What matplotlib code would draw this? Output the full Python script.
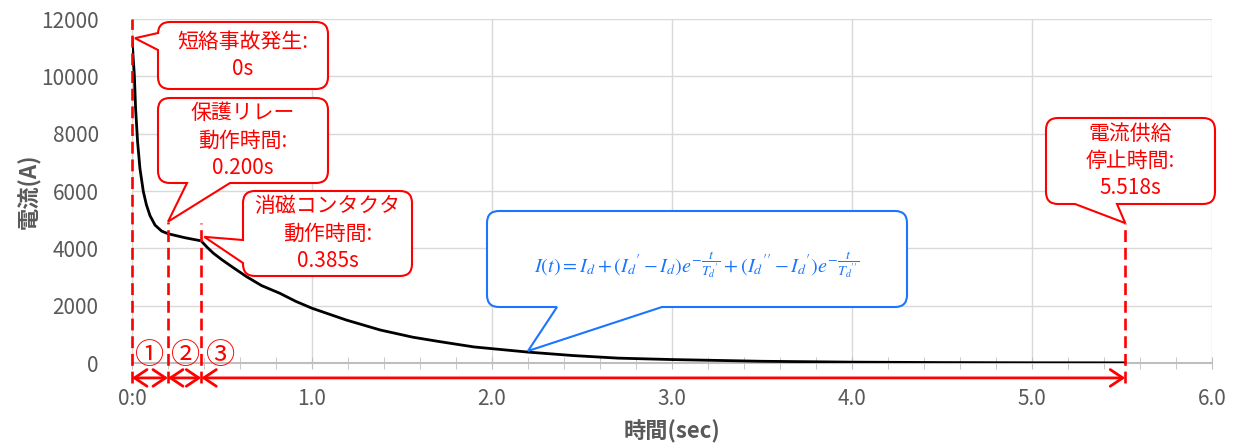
import numpy as np
import matplotlib
matplotlib.use('Agg')
import matplotlib.pyplot as plt
from matplotlib.path import Path
from matplotlib.patches import PathPatch
from matplotlib.transforms import IdentityTransform

plt.rcParams['font.family'] = ['Noto Sans CJK JP', 'DejaVu Sans']
plt.rcParams['mathtext.fontset'] = 'stix'

# 電流波形
time_s = [0, 0.006, 0.013, 0.02, 0.031, 0.044, 0.063, 0.08, 0.1, 0.128, 0.165, 0.2, 0.294,
          0.385, 0.393, 0.42, 0.452, 0.5, 0.55, 0.637, 0.72, 0.822, 0.91, 1.0, 1.19, 1.38,
          1.56, 1.71, 1.9, 2.2, 2.45, 2.7, 3.0, 3.5, 4.0, 4.5, 5.0, 5.518]
current_a = [11330, 10700, 10050, 8880, 7720, 6790, 5980, 5520, 5140, 4810, 4600, 4510, 4370,
             4260, 4200, 4020, 3830, 3600, 3380, 3010, 2700, 2430, 2150, 1910, 1500, 1150,
             900, 745, 560, 380, 260, 170, 120, 60, 30, 15, 8, 5]

# イベント時刻
t_fault = 0.0
t_relay = 0.200
t_contactor = 0.385
t_stop = 5.518

xticks = [0, 1, 2, 3, 4, 5, 6]
xticklabels = ['0:0', '1.0', '2.0', '3.0', '4.0', '5.0', '6.0']
yticks = [0, 2000, 4000, 6000, 8000, 10000, 12000]

RED = '#ff0000'
BLUE = '#1a75ff'
GRAY = '#595959'
H = 446

fig = plt.figure(figsize=(12.34, 4.46), dpi=100)
ax = fig.add_axes([132 / 1234, 1 - 363 / H, 1080 / 1234, 344 / H])

ax.plot(time_s, current_a, color='black', lw=2, zorder=3, solid_joinstyle='round')

ax.set_xlim(0, 6)
ax.set_ylim(0, 12000)
ax.set_xticks(xticks)
ax.set_xticklabels(xticklabels)
ax.set_yticks(yticks)
ax.set_xticks(np.arange(0, 6.01, 0.2), minor=True)
ax.tick_params(axis='x', which='both', direction='inout', length=8, color='#bfbfbf',
               labelsize=15, labelcolor=GRAY, pad=14)
ax.tick_params(axis='y', length=0, labelsize=15, labelcolor=GRAY, pad=24)
ax.grid(True, which='major', color='#d9d9d9', lw=1)
for s in ['top', 'right']:
    ax.spines[s].set_visible(False)
ax.spines['left'].set_color('#d9d9d9')
ax.spines['bottom'].set_color('#bfbfbf')
ax.spines['bottom'].set_linewidth(1.5)

ax.set_xlabel('時間(sec)', fontsize=16, color=GRAY, fontweight='bold', labelpad=7)
ax.set_ylabel('電流(A)', fontsize=16, color=GRAY, fontweight='bold', labelpad=0)

# 破線（イベント時刻）
y_bottom = -700
dash_top = [(t_fault, 12000), (t_relay, 4930), (t_contactor, 4880), (t_stop, 4880)]
for tx, ty in dash_top:
    ax.plot([tx, tx], [y_bottom, ty], color=RED, lw=1.9, dashes=(4.5, 2.2),
            clip_on=False, zorder=4)

# 区間の矢印
y_arrow = -520
for a, b in [(t_fault, t_relay), (t_relay, t_contactor), (t_contactor, t_stop)]:
    ax.annotate('', xy=(b, y_arrow), xytext=(a, y_arrow), annotation_clip=False,
                arrowprops=dict(arrowstyle='<->,head_length=0.45,head_width=0.3',
                                color=RED, lw=2, mutation_scale=20,
                                shrinkA=0, shrinkB=0))
for label, tx in [('①', 0.1), ('②', 0.3), ('③', 0.49)]:
    ax.text(tx, 230, label, color=RED, fontsize=21, ha='center', va='center')


def callout(box, side, base, tip, color, text, fontsize=15, dy=0):
    # box: 画像座標 (左, 上, 右, 下)、tip: 表示座標
    l, t, r, b = box[0], H - box[1], box[2], H - box[3]
    rad = 12
    v, c = [], []

    def mv(p):
        v.append(p); c.append(Path.MOVETO)

    def ln(p):
        v.append(p); c.append(Path.LINETO)

    def cv(ctrl, p):
        v.extend([ctrl, p]); c.extend([Path.CURVE3, Path.CURVE3])

    mv((l + rad, b))
    if side == 'bottom':
        ln((base[0], b)); ln(tip); ln((base[1], b))
    ln((r - rad, b)); cv((r, b), (r, b + rad))
    ln((r, t - rad)); cv((r, t), (r - rad, t))
    ln((l + rad, t)); cv((l, t), (l, t - rad))
    if side == 'left':
        ln((l, H - base[0])); ln(tip); ln((l, H - base[1]))
    ln((l, b + rad)); cv((l, b), (l + rad, b))
    v.append((0, 0)); c.append(Path.CLOSEPOLY)
    patch = PathPatch(Path(v, c), facecolor='white', edgecolor=color, lw=1.5,
                      transform=IdentityTransform(), clip_on=False, zorder=6)
    ax.add_artist(patch)
    ax.text((l + r) / 2, (t + b) / 2 + dy, text, transform=IdentityTransform(),
            ha='center', va='center', color=color, fontsize=fontsize,
            linespacing=1.3, zorder=7)


fig.canvas.draw()
td = ax.transData.transform
callout((158, 22, 328, 89), 'left', (33, 50), td((t_fault, 11330)) + (3, 0), RED,
        '短絡事故発生:\n0s')
callout((158, 98, 328, 183), 'bottom', (187, 230), td((t_relay, 4930)), RED,
        '保護リレー\n動作時間:\n0.200s')
callout((243, 191, 412, 276), 'left', (240, 263), td((t_contactor, 4400)) + (3, 0), RED,
        '消磁コンタクタ\n動作時間:\n0.385s')
callout((1046, 118, 1215, 204), 'bottom', (1075, 1117), td((t_stop, 4880)), RED,
        '電流供給\n停止時間:\n5.518s')
callout((487, 211, 907, 307), 'bottom', (557, 662), td((2.2, 420)), BLUE,
        r"$I(t)=I_d+\left(I_d{}^{\prime}-I_d\right)e^{-\dfrac{t}{T_d{}^{\prime}}}"
        r"+\left(I_d{}^{\prime\prime}-I_d{}^{\prime}\right)e^{-\dfrac{t}{T_d{}^{\prime\prime}}}$",
        fontsize=14.5, dy=-6)

fig.savefig('out.png', dpi=100)
